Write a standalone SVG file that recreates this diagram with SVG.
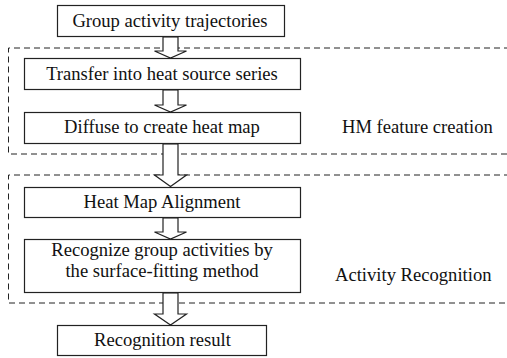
<svg xmlns="http://www.w3.org/2000/svg" width="507" height="358" viewBox="0 0 507 358">
<style>
.box{fill:#fff;stroke:#222;stroke-width:1.2}
.grp{fill:none;stroke:#222;stroke-width:1;stroke-dasharray:6 4}
.arr{fill:#fff;stroke:#222;stroke-width:1.2;stroke-linejoin:miter}
.t{font-family:'Liberation Serif','Times New Roman',serif;font-size:18.6px;fill:#111}
.c{text-anchor:middle}
</style>
<rect width="507" height="358" fill="#fff"/>
<g id="group-hm">
<path class="grp" d="M510,48 H8.5 V154 H510"/>
<text class="t" x="342" y="133">HM feature creation</text>
</g>
<g id="group-ar">
<path class="grp" d="M510,175 H8.5 V303 H510"/>
<text class="t" x="335" y="281">Activity Recognition</text>
</g>
<g id="connectors">
<polygon class="arr" points="163,37 178,37 178,51 186.5,51 170.5,58 154.5,51 163,51"/>
<polygon class="arr" points="163,90 178,90 178,105 186.5,105 170.5,112 154.5,105 163,105"/>
<polygon class="arr" points="163,144 178,144 178,175 186.5,175 170.5,186.5 154.5,175 163,175"/>
<polygon class="arr" points="163,218 178,218 178,232 186.5,232 170.5,239 154.5,232 163,232"/>
<polygon class="arr" points="163,293 178,293 178,314 186.5,314 170.5,325 154.5,314 163,314"/>
</g>
<g id="n1">
<rect class="box" x="57.5" y="5.5" width="227" height="31"/>
<text class="t c" x="170" y="27">Group activity trajectories</text>
</g>
<g id="n2">
<rect class="box" x="24.5" y="58.5" width="276" height="31"/>
<text class="t c" x="162" y="80">Transfer into heat source series</text>
</g>
<g id="n3">
<rect class="box" x="24.5" y="112.5" width="276" height="31"/>
<text class="t c" x="162" y="133">Diffuse to create heat map</text>
</g>
<g id="n4">
<rect class="box" x="24.5" y="187.5" width="276" height="30"/>
<text class="t c" x="162" y="208">Heat Map Alignment</text>
</g>
<g id="n5">
<rect class="box" x="24.5" y="239.5" width="276" height="53"/>
<text class="t c" x="162" y="256">Recognize group activities by</text>
<text class="t c" x="162" y="276.5">the surface-fitting method</text>
</g>
<g id="n6">
<rect class="box" x="57.5" y="325.5" width="209" height="30"/>
<text class="t c" x="162.5" y="346">Recognition result</text>
</g>
</svg>
